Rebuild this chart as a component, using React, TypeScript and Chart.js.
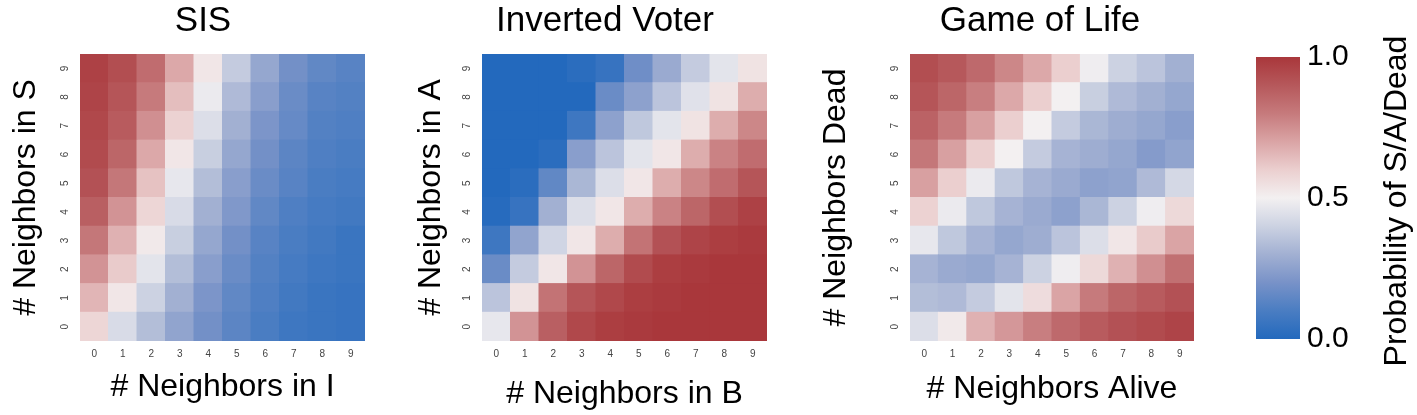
import React, { useEffect, useRef } from "react";
import { Chart, registerables } from "chart.js";

Chart.register(...registerables);

const FONT = "'Liberation Sans', 'Helvetica Neue', Helvetica, Arial, sans-serif";

// ---------- data ----------
const xTickLabels = ["0", "1", "2", "3", "4", "5", "6", "7", "8", "9"];
const yTickLabels = ["0", "1", "2", "3", "4", "5", "6", "7", "8", "9"];
const colorbarTicks = [0, 0.5, 1];
const colorbarTitle = "Probability of S/A/Dead";

const titles = ["SIS", "Inverted Voter", "Game of Life"];
const xTitles = ["# Neighbors in I", "# Neighbors in B", "# Neighbors Alive"];
const yTitles = ["# Neighbors in S", "# Neighbors in A", "# Neighbors Dead"];

// colour map (blue -> white -> red)
const cmapStops = [0, 0.1, 0.2, 0.3, 0.4, 0.5, 0.6, 0.7, 0.8, 0.9, 1];
const cmapColors = [
  "#2369bd", "#4a7dc2", "#7892c8", "#a2b0d2", "#ccd2e2", "#f3f0f1",
  "#ebcfcf", "#daa4a5", "#c67a7c", "#b6585b", "#a9373b",
];

// rows listed from y = 0 (bottom) to y = 9 (top), columns x = 0..9
const sisValues = [
  [0.58, 0.43, 0.34, 0.26, 0.19, 0.14, 0.10, 0.07, 0.06, 0.05],
  [0.66, 0.53, 0.40, 0.30, 0.21, 0.15, 0.11, 0.08, 0.06, 0.05],
  [0.74, 0.61, 0.46, 0.34, 0.24, 0.17, 0.12, 0.09, 0.07, 0.06],
  [0.81, 0.67, 0.52, 0.39, 0.27, 0.19, 0.13, 0.10, 0.08, 0.06],
  [0.88, 0.74, 0.58, 0.43, 0.30, 0.22, 0.15, 0.11, 0.09, 0.08],
  [0.92, 0.81, 0.63, 0.47, 0.34, 0.24, 0.17, 0.13, 0.10, 0.09],
  [0.94, 0.86, 0.69, 0.53, 0.39, 0.27, 0.19, 0.14, 0.11, 0.10],
  [0.95, 0.89, 0.75, 0.59, 0.44, 0.30, 0.21, 0.16, 0.12, 0.11],
  [0.96, 0.91, 0.80, 0.64, 0.48, 0.33, 0.24, 0.17, 0.13, 0.12],
  [0.97, 0.93, 0.84, 0.69, 0.53, 0.38, 0.27, 0.19, 0.15, 0.13],
];

const voterValues = [
  [0.47, 0.74, 0.88, 0.95, 0.98, 0.99, 1.0, 1.0, 1.0, 1.0],
  [0.36, 0.54, 0.82, 0.91, 0.95, 0.98, 0.99, 1.0, 1.0, 1.0],
  [0.17, 0.38, 0.53, 0.74, 0.86, 0.94, 0.98, 0.99, 1.0, 1.0],
  [0.07, 0.26, 0.41, 0.53, 0.68, 0.82, 0.92, 0.96, 0.98, 0.99],
  [0.01, 0.05, 0.30, 0.44, 0.53, 0.68, 0.78, 0.86, 0.93, 0.97],
  [0.0, 0.02, 0.15, 0.32, 0.44, 0.53, 0.68, 0.77, 0.84, 0.91],
  [0.0, 0.0, 0.02, 0.24, 0.36, 0.46, 0.53, 0.68, 0.78, 0.84],
  [0.0, 0.0, 0.0, 0.07, 0.25, 0.37, 0.46, 0.54, 0.68, 0.77],
  [0.0, 0.0, 0.0, 0.0, 0.17, 0.25, 0.36, 0.45, 0.54, 0.68],
  [0.0, 0.0, 0.0, 0.02, 0.05, 0.18, 0.28, 0.38, 0.46, 0.54],
];

const lifeValues = [
  [0.44, 0.52, 0.67, 0.73, 0.79, 0.85, 0.89, 0.92, 0.94, 0.96],
  [0.34, 0.33, 0.38, 0.46, 0.56, 0.70, 0.80, 0.86, 0.89, 0.92],
  [0.31, 0.28, 0.27, 0.31, 0.40, 0.49, 0.57, 0.67, 0.75, 0.83],
  [0.47, 0.37, 0.31, 0.27, 0.29, 0.36, 0.44, 0.53, 0.61, 0.70],
  [0.59, 0.48, 0.37, 0.31, 0.28, 0.25, 0.32, 0.40, 0.49, 0.57],
  [0.71, 0.60, 0.48, 0.37, 0.31, 0.28, 0.25, 0.26, 0.33, 0.42],
  [0.81, 0.71, 0.60, 0.50, 0.38, 0.31, 0.29, 0.27, 0.23, 0.26],
  [0.87, 0.80, 0.71, 0.60, 0.50, 0.38, 0.32, 0.29, 0.27, 0.24],
  [0.91, 0.86, 0.79, 0.69, 0.60, 0.50, 0.39, 0.33, 0.30, 0.27],
  [0.93, 0.90, 0.85, 0.77, 0.69, 0.60, 0.49, 0.40, 0.36, 0.30],
];

// ---------- colour helpers ----------
function hexToRgb(h: string): number[] {
  const n = parseInt(h.slice(1), 16);
  return [(n >> 16) & 255, (n >> 8) & 255, n & 255];
}
function valueToColor(v: number): string {
  const t = Math.max(0, Math.min(1, v));
  let i = 0;
  while (i < cmapStops.length - 2 && t > cmapStops[i + 1]) i++;
  const a = hexToRgb(cmapColors[i]);
  const b = hexToRgb(cmapColors[i + 1]);
  const f = (t - cmapStops[i]) / (cmapStops[i + 1] - cmapStops[i]);
  const c = a.map((x, k) => Math.round(x + (b[k] - x) * f));
  return `rgb(${c[0]},${c[1]},${c[2]})`;
}

// ---------- layout frames (pixel placement only) ----------
const H = 415;
type Frame = {
  left: number;
  width: number;
  areaLeft: number;
  areaRight: number;
  yTitlePad: number;
  xTitlePad: number;
};
const frames: Frame[] = [
  { left: 0, width: 406, areaLeft: 80, areaRight: 365, yTitlePad: 6.8, xTitlePad: 8.9 },
  { left: 408, width: 394, areaLeft: 482, areaRight: 767, yTitlePad: 3.8, xTitlePad: 1.9 },
  { left: 812, width: 456, areaLeft: 910, areaRight: 1194, yTitlePad: 4.8, xTitlePad: 6.9 },
];
const AREA_TOP = 54;
const AREA_BOTTOM = 341;

function Heatmap(props: { idx: number; values: number[][] }) {
  const ref = useRef<HTMLCanvasElement | null>(null);
  const { idx, values } = props;
  const fr = frames[idx];
  useEffect(() => {
    if (!ref.current) return;
    const titleFont = { family: FONT, size: 35, weight: "normal" as const, lineHeight: 1.2 };
    const chart = new Chart(ref.current, {
      type: "bar",
      data: {
        labels: xTickLabels,
        datasets: yTickLabels.map((yl, r) => ({
          label: "row " + yl,
          data: values[r].map(() => [r, r + 1] as [number, number]),
          backgroundColor: values[r].map(valueToColor),
          borderWidth: 0,
          grouped: false,
          barPercentage: 1,
          categoryPercentage: 1,
          inflateAmount: 0.5,
          xAxisID: "x",
          yAxisID: "y",
        })),
      },
      options: {
        responsive: false,
        animation: false,
        events: [],
        layout: { padding: 0 },
        plugins: {
          legend: { display: false },
          tooltip: { enabled: false },
          title: {
            display: true,
            text: titles[idx],
            color: "#000",
            font: titleFont,
            padding: { top: 0, bottom: AREA_TOP - 42 },
          },
        },
        scales: {
          x: {
            type: "category",
            grid: { display: false, drawTicks: false },
            border: { display: false },
            ticks: {
              font: { family: FONT, size: 10 },
              color: "#444",
              padding: 7,
              minRotation: 0,
              maxRotation: 0,
            },
            title: {
              display: true,
              text: xTitles[idx],
              color: "#000",
              font: { family: FONT, size: 32, lineHeight: 1.2 },
              padding: { top: 0, bottom: fr.xTitlePad },
            },
            afterFit: (s: any) => {
              s.height = H - AREA_BOTTOM;
            },
          },
          y: {
            type: "linear",
            position: "left",
            min: 0,
            max: 10,
            grid: { display: false, drawTicks: false },
            border: { display: false },
            afterBuildTicks: (s: any) => {
              s.ticks = yTickLabels.map((_, i) => ({ value: i + 0.5 }));
            },
            ticks: {
              callback: (_v: any, i: number) => yTickLabels[i],
              font: { family: FONT, size: 10 },
              color: "#444",
              padding: 12,
              minRotation: 90,
              maxRotation: 90,
              crossAlign: "center",
            },
            title: {
              display: true,
              text: yTitles[idx],
              color: "#000",
              font: { family: FONT, size: 32, lineHeight: 1.2 },
              padding: { top: fr.yTitlePad, bottom: 0 },
            },
            afterFit: (s: any) => {
              s.width = fr.areaLeft - fr.left;
            },
          },
          gap: {
            type: "linear",
            position: "right",
            display: true,
            grid: { display: false, drawTicks: false },
            border: { display: false },
            ticks: { display: false },
            afterFit: (s: any) => {
              s.width = fr.left + fr.width - fr.areaRight;
            },
          },
        },
      } as any,
    });
    return () => chart.destroy();
  }, []);
  return (
    <canvas
      ref={ref}
      width={fr.width}
      height={H}
      style={{ position: "absolute", left: fr.left, top: 0, width: fr.width, height: H }}
    />
  );
}

const CB_LEFT = 1240;
const CB_WIDTH = 177;

function Colorbar() {
  const ref = useRef<HTMLCanvasElement | null>(null);
  useEffect(() => {
    if (!ref.current) return;
    const titlePlugin = {
      id: "cbTitle",
      afterDraw(chart: any) {
        const ctx = chart.ctx;
        ctx.save();
        ctx.translate(1397 - CB_LEFT, 201);
        ctx.rotate(-Math.PI / 2);
        ctx.font = `32px ${FONT}`;
        ctx.fillStyle = "#000";
        ctx.textAlign = "center";
        ctx.textBaseline = "middle";
        ctx.fillText(colorbarTitle, 0, 0);
        ctx.restore();
      },
    };
    const chart = new Chart(ref.current, {
      type: "bar",
      data: {
        labels: ["p"],
        datasets: [
          {
            label: colorbarTitle,
            data: [[colorbarTicks[0], colorbarTicks[colorbarTicks.length - 1]] as [number, number]],
            backgroundColor: (c: any) => {
              const area = c.chart.chartArea;
              if (!area) return cmapColors[5];
              const g = c.chart.ctx.createLinearGradient(0, area.bottom, 0, area.top);
              cmapStops.forEach((s, i) => g.addColorStop(s, cmapColors[i]));
              return g;
            },
            borderWidth: 0,
            barPercentage: 1,
            categoryPercentage: 1,
          },
        ],
      },
      options: {
        responsive: false,
        animation: false,
        events: [],
        layout: { padding: { left: 1256 - CB_LEFT, right: 0, top: 57, bottom: H - 339 } },
        plugins: { legend: { display: false }, tooltip: { enabled: false } },
        scales: {
          x: { display: false },
          y: {
            position: "right",
            min: 0,
            max: 1,
            grid: { display: false, drawTicks: false },
            border: { display: false },
            afterBuildTicks: (s: any) => {
              s.ticks = colorbarTicks.map((v) => ({ value: v }));
            },
            ticks: {
              callback: (v: any) => Number(v).toFixed(1),
              font: { family: FONT, size: 30 },
              color: "#000",
              padding: 7,
            },
            afterFit: (s: any) => {
              s.width = CB_LEFT + CB_WIDTH - 1300;
            },
          },
        },
      } as any,
      plugins: [titlePlugin],
    });
    return () => chart.destroy();
  }, []);
  return (
    <canvas
      ref={ref}
      width={CB_WIDTH}
      height={H}
      style={{ position: "absolute", left: CB_LEFT, top: 0, width: CB_WIDTH, height: H }}
    />
  );
}

export default function App() {
  return (
    <div style={{ position: "absolute", left: 0, top: 0, width: 1417, height: H, background: "#fff" }}>
      <Heatmap idx={0} values={sisValues} />
      <Heatmap idx={1} values={voterValues} />
      <Heatmap idx={2} values={lifeValues} />
      <Colorbar />
    </div>
  );
}
